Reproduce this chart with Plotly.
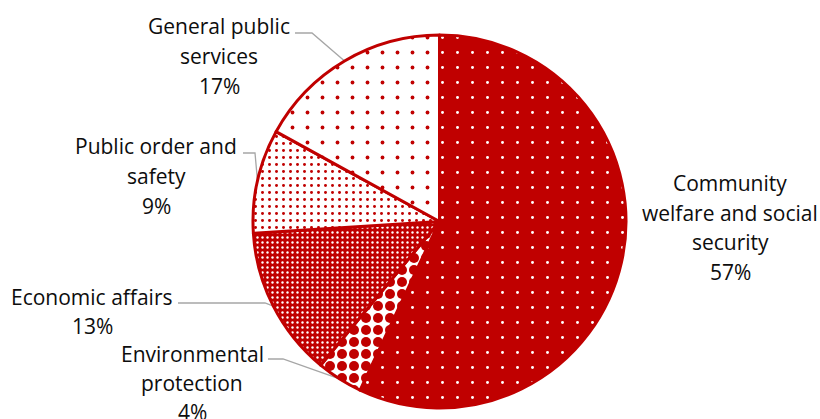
import numpy as np
import plotly.graph_objects as go

# Expenditure shares by function (clockwise from 12 o'clock)
categories = [
    "Community welfare and social security",
    "Environmental protection",
    "Economic affairs",
    "Public order and safety",
    "General public services",
]
shares = [57, 4, 13, 9, 17]
label_lines = [
    ["Community", "welfare and social", "security", "57%"],
    ["Environmental", "protection", "4%"],
    ["Economic affairs", "13%"],
    ["Public order and", "safety", "9%"],
    ["General public", "services", "17%"],
]

RED = "#C00000"
W, H = 820, 419
CX, CY, R = 439.5, 221.5, 186.5  # pie centre and radius in pixels

# Fill patterns per slice: (fg, bg, size, solidity)
patterns = [
    ("white", RED, 15, 0.03),
    (RED, "white", 12, 0.55),
    ("white", RED, 5, 0.18),
    (RED, "white", 7, 0.14),
    (RED, "white", 15, 0.05),
]

# Label layout: centre x, first-line centre y, line step, leader start, elbow
label_layout = [
    dict(x=730, y=183, step=29.5, lead=None),
    dict(x=192, y=354, step=29, lead=((268, 359), (283, 359))),
    dict(x=92, y=297, step=29, lead=((178, 303), (265, 303))),
    dict(x=156, y=146, step=30, lead=((243, 153), (255, 153))),
    dict(x=219, y=26, step=30, lead=((295, 33), (312, 33))),
]

fig = go.Figure()

fig.add_trace(go.Pie(
    labels=categories,
    values=shares,
    sort=False,
    direction="clockwise",
    rotation=0,
    textinfo="none",
    hoverinfo="label+percent",
    showlegend=False,
    domain=dict(x=[(CX - R) / W, (CX + R) / W],
                y=[1 - (CY + R) / H, 1 - (CY - R) / H]),
    marker=dict(
        colors=[p[1] for p in patterns],
        line=dict(color=RED, width=3),
        pattern=dict(
            shape=["."] * len(shares),
            fillmode="replace",
            fgcolor=[p[0] for p in patterns],
            bgcolor=[p[1] for p in patterns],
            size=[p[2] for p in patterns],
            solidity=[p[3] for p in patterns],
        ),
    ),
))

# Leader lines from each slice's mid-angle on the rim to its label
total = float(sum(shares))
cum = np.cumsum([0] + shares)
for i, lay in enumerate(label_layout):
    if lay["lead"] is None:
        continue
    mid = (cum[i] + shares[i] / 2) / total * 2 * np.pi
    px = CX + R * np.sin(mid)
    py = CY - R * np.cos(mid)
    (x0, y0), (x1, y1) = lay["lead"]
    fig.add_trace(go.Scatter(
        x=[x0, x1, px], y=[y0, y1, py], mode="lines",
        line=dict(color="#A6A6A6", width=1.3),
        hoverinfo="skip", showlegend=False, xaxis="x", yaxis="y",
    ))

annotations = []
for lines, lay in zip(label_lines, label_layout):
    for k, txt in enumerate(lines):
        annotations.append(dict(
            x=lay["x"], y=lay["y"] + k * lay["step"], xref="x", yref="y",
            text=txt, showarrow=False, xanchor="center", yanchor="middle",
            font=dict(family="Open Sans", size=21, color="#0d0d0d"),
        ))

fig.update_layout(
    width=W, height=H,
    margin=dict(l=0, r=0, t=0, b=0),
    paper_bgcolor="white", plot_bgcolor="rgba(0,0,0,0)",
    xaxis=dict(range=[0, W], visible=False, fixedrange=True),
    yaxis=dict(range=[H, 0], visible=False, fixedrange=True),
    annotations=annotations,
)

fig.write_html("out.html")
